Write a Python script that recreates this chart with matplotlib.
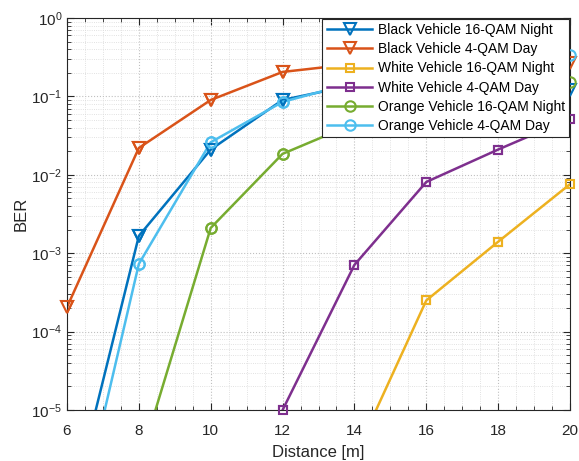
import matplotlib.pyplot as plt
import numpy as np
from matplotlib.ticker import MultipleLocator, LogLocator

plt.rcParams['font.family'] = ['Liberation Sans', 'DejaVu Sans']

dist = [6, 8, 10, 12, 14, 16, 18, 20]

# BER values (nan = not drawn)
black_16qam_night = [3.3e-7, 1.66e-3, 0.021, 0.09, 0.14, 0.13, 0.125, 0.12]
black_4qam_day = [2.05e-4, 0.022, 0.09, 0.205, 0.26, 0.28, 0.28, 0.27]
white_16qam_night = [np.nan, np.nan, np.nan, np.nan, 2.5e-6, 2.5e-4, 1.4e-3, 7.6e-3]
white_4qam_day = [np.nan, np.nan, np.nan, 1.0e-5, 7.1e-4, 8.1e-3, 0.021, 0.052]
orange_16qam_night = [np.nan, 2.0e-6, 2.1e-3, 0.0185, 0.045, 0.08, 0.12, 0.153]
orange_4qam_day = [8.7e-8, 7.3e-4, 0.026, 0.085, 0.15, 0.2, 0.28, 0.34]

labels = ['Black Vehicle 16-QAM Night', 'Black Vehicle 4-QAM Day',
          'White Vehicle 16-QAM Night', 'White Vehicle 4-QAM Day',
          'Orange Vehicle 16-QAM Night', 'Orange Vehicle 4-QAM Day']
series = [black_16qam_night, black_4qam_day, white_16qam_night,
          white_4qam_day, orange_16qam_night, orange_4qam_day]
colors = ['#0072BD', '#D95319', '#EDB120', '#7E2F8E', '#77AC30', '#4DBEEE']
markers = ['v', 'v', 's', 's', 'o', 'o']
msizes = [8, 8, 6, 6, 7.5, 7.5]

fig = plt.figure(figsize=(5.79, 4.61), dpi=100)
ax = fig.add_axes([0.1157, 0.1106, 0.8688, 0.8504])

for y, lab, c, m, ms in zip(series, labels, colors, markers, msizes):
    ax.semilogy(dist, y, color=c, marker=m, markersize=ms, markerfacecolor='none',
                markeredgewidth=1.5, linewidth=1.8, label=lab)
    # markers inside the limits are drawn unclipped, as MATLAB does
    xs = [d for d, v in zip(dist, y) if v >= 1e-5]
    ys = [v for v in y if v >= 1e-5]
    ax.plot(xs, ys, ls='none', color=c, marker=m, markersize=ms,
            markerfacecolor='none', markeredgewidth=1.5, clip_on=False, zorder=3)

ax.set_xlim(6, 20)
ax.set_ylim(1e-5, 1)
ax.xaxis.set_major_locator(MultipleLocator(2))
ax.xaxis.set_minor_locator(MultipleLocator(0.5))
ax.yaxis.set_major_locator(LogLocator(base=10, numticks=10))
ax.yaxis.set_minor_locator(LogLocator(base=10, subs=np.arange(2, 10), numticks=20))

ax.grid(which='major', linestyle=':', color='#c0c0c0', linewidth=0.8)
ax.grid(which='minor', linestyle=':', color='#d8d8d8', linewidth=0.6)
ax.tick_params(which='both', direction='in', top=True, right=True, labelsize=11,
               colors='#262626')
ax.tick_params(axis='x', pad=10)
ax.tick_params(which='major', length=5)
ax.tick_params(which='minor', length=3)
for s in ax.spines.values():
    s.set_color('#262626')
    s.set_linewidth(0.8)

ax.set_xlabel('Distance [m]', fontsize=12, color='#262626', labelpad=5)
ax.set_ylabel('BER', fontsize=12, color='#262626', labelpad=2)

leg = ax.legend(loc='upper right', bbox_to_anchor=(1.0, 1.0), fontsize=10,
                fancybox=False, framealpha=1, edgecolor='#262626',
                borderaxespad=0.05, handlelength=3.3, labelspacing=0.38,
                borderpad=0.3, handletextpad=0.4)
leg.get_frame().set_linewidth(0.8)
leg.set_zorder(5)

fig.savefig('out.png', dpi=100)
